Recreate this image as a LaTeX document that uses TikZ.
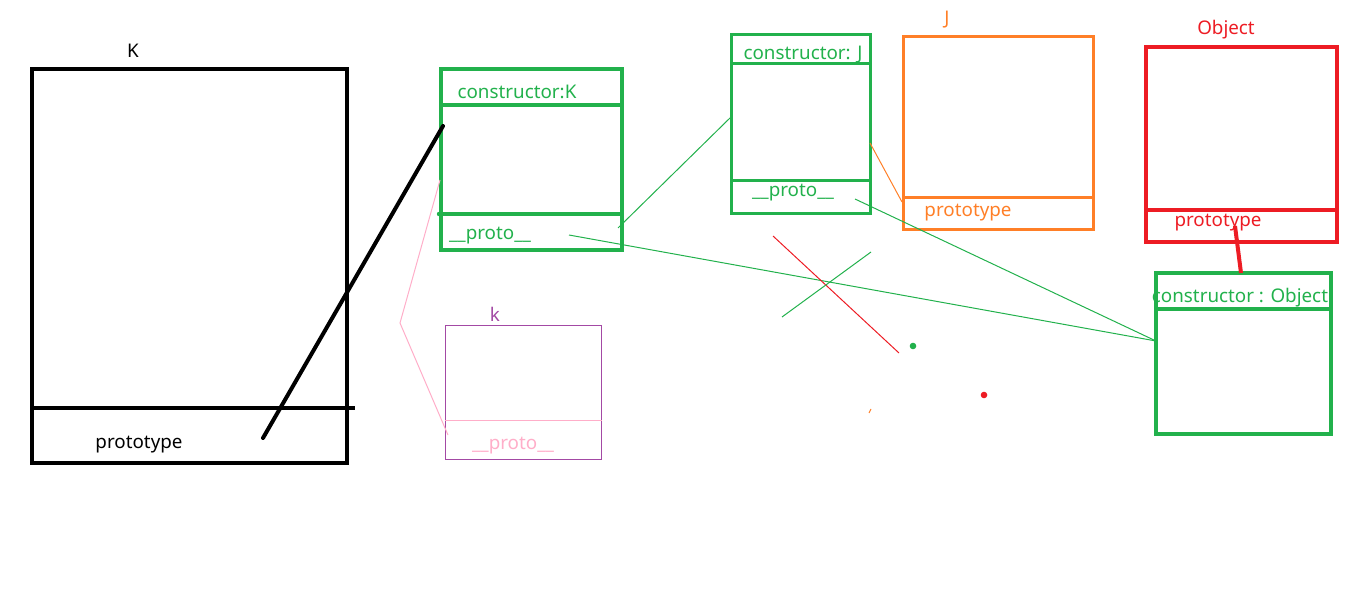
\documentclass[tikz,border=0pt]{standalone}
\usepackage{fontspec}
\setmainfont{Noto Sans}
\definecolor{gr}{RGB}{34,177,76}
\definecolor{og}{RGB}{255,127,39}
\definecolor{rd}{RGB}{237,28,36}
\definecolor{pu}{RGB}{163,73,164}
\definecolor{pk}{RGB}{255,174,201}
\begin{document}
\begin{tikzpicture}[x=1pt,y=-1pt,
  box/.style={draw, inner sep=0pt, outer sep=0pt},
  lbl/.style={font=\fontsize{18.8}{21}\selectfont, inner sep=0pt, yshift=-3pt}]
\useasboundingbox (0,0) rectangle (1360,591);
% K box
\node[box, line width=4pt, minimum width=315pt, minimum height=394pt] (K) at (189.5,266) {};
\draw[line width=4pt] (32,408) -- (355,408);
\node[lbl] (Kt) at (133,48) {K};
\node[lbl] (Kp) at (139,442) {prototype};
% constructor K
\node[box, gr, line width=4pt, minimum width=181pt, minimum height=181pt] (CK) at (531.5,159.5) {};
\draw[gr, line width=4pt] (441,105) -- (622,105);
\draw[gr, line width=4pt] (441,214) -- (622,214);
\fill[gr] (439,214) circle (2.2);
\node[lbl, gr] (CKt) at (517,89) {constructor:K};
\node[lbl, gr] (CKp) at (490,233) {\_\_proto\_\_};
% k box
\node[box, pu, line width=1pt, minimum width=156pt, minimum height=134pt] (k) at (523,392) {};
\draw[pk, line width=1pt] (445,420) -- (602,420);
\node[lbl, pu] (kt) at (495,311) {k};
\node[lbl, pk] (kp) at (513,443) {\_\_proto\_\_};
% constructor J
\node[box, gr, line width=3pt, minimum width=139pt, minimum height=178pt] (CJ) at (800.5,124) {};
\draw[gr, line width=3pt] (731,64) -- (872,64);
\draw[gr, line width=3pt] (731,180) -- (870,180);
\node[lbl, gr] (CJt) at (803,52) {constructor: J};
\node[lbl, gr] (CJp) at (793,190) {\_\_proto\_\_};
% J box
\node[box, og, line width=3pt, minimum width=190pt, minimum height=192pt] (J) at (998,133) {};
\draw[og, line width=3pt] (903,197) -- (1093,197);
\node[lbl, og] (Jt) at (947,17) {J};
\node[lbl, og] (Jp) at (968,210) {prototype};
% Object box
\node[box, rd, line width=4pt, minimum width=191pt, minimum height=195pt] (O) at (1241.5,144.5) {};
\draw[rd, line width=4pt] (1146,210) -- (1337,210);
\node[lbl, rd] (Ot) at (1226,27) {Object};
\node[lbl, rd] (Op) at (1218,220) {prototype};
% constructor Object
\node[box, gr, line width=4pt, minimum width=175pt, minimum height=161pt] (CO) at (1243.5,353.5) {};
\draw[gr, line width=4pt] (1156,309) -- (1331,309);
\node[lbl, gr] (COt) at (1240,295) {constructor : Object};
% connector points
\coordinate (a1) at (263,438);
\coordinate (a2) at (443,126);
\coordinate (p1) at (440,180);
\coordinate (p2) at (400,323);
\coordinate (p3) at (448,435);
\coordinate (g1) at (618,228);
\coordinate (g2) at (731,117);
\coordinate (g3) at (569,235);
\coordinate (g4) at (1156,341);
\coordinate (g5) at (855,199);
\coordinate (o1) at (870,143);
\coordinate (o2) at (902,202);
\coordinate (r1) at (1235,226);
\coordinate (r2) at (1241,273);
% connectors
\draw[line width=4pt, line cap=round] (a1) -- (a2);
\draw[pk, line width=1pt] (p1) -- (p2) -- (p3);
\draw[gr, line width=1pt] (g1) -- (g2);
\draw[gr, line width=1pt] (g3) -- (g4);
\draw[gr, line width=1pt] (g5) -- (g4);
\draw[og, line width=1pt] (o1) -- (o2);
\draw[rd, line width=4pt] (r1) -- (r2);
% stray strokes
\draw[rd, line width=1pt] (773,236) -- (899,353);
\draw[gr, line width=1pt] (782,317) -- (871,252);
\fill[gr] (913,346) circle (3.3);
\fill[rd] (984,395) circle (3.3);
\draw[og, line width=1pt] (869,413) -- (871,409);
\end{tikzpicture}
\end{document}
